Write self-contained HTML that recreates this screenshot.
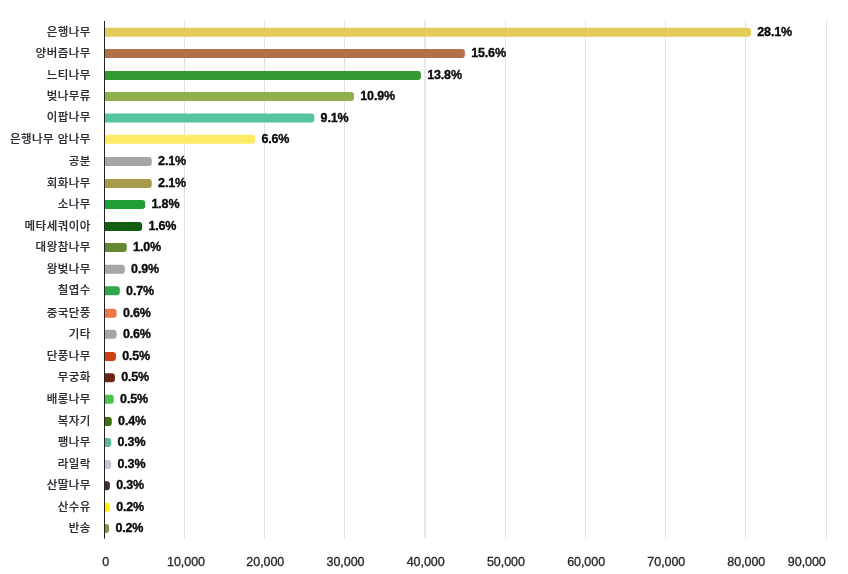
<!DOCTYPE html>
<html lang="ko"><head><meta charset="utf-8"><title>chart</title><style>
html,body{margin:0;padding:0;background:#fff;}
#c{will-change:transform;position:relative;width:848px;height:574px;overflow:hidden;background:#fff;font-family:"Liberation Sans","Noto Sans CJK KR",sans-serif;}
#c svg{position:absolute;left:0;top:0;}
.l{position:absolute;right:757.2px;width:110px;text-align:right;font-size:11.5px;line-height:14px;letter-spacing:0.46px;color:#2c2c34;white-space:nowrap;font-weight:500;-webkit-text-stroke:0.16px #2c2c34;}
.v{position:absolute;font-weight:bold;font-size:12.5px;line-height:14px;color:#0a0a0a;white-space:nowrap;letter-spacing:-0.15px;-webkit-text-stroke:0.35px #0a0a0a;}
.t{position:absolute;width:80px;text-align:center;font-size:12.5px;line-height:14px;color:#262626;letter-spacing:-0.05px;white-space:nowrap;-webkit-text-stroke:0.3px #262626;}
</style></head><body><div id="c">
<svg width="848" height="574" viewBox="0 0 848 574">
<rect x="184" y="20.5" width="1" height="517.9" fill="#e2e2e2"/>
<rect x="264" y="20.5" width="1" height="517.9" fill="#e2e2e2"/>
<rect x="344" y="20.5" width="1" height="517.9" fill="#e2e2e2"/>
<rect x="424" y="20.5" width="2" height="517.9" fill="#e8e8e8"/>
<rect x="505" y="20.5" width="1" height="517.9" fill="#e2e2e2"/>
<rect x="585" y="20.5" width="1" height="517.9" fill="#e2e2e2"/>
<rect x="665" y="20.5" width="1" height="517.9" fill="#e2e2e2"/>
<rect x="745" y="20.5" width="1" height="517.9" fill="#e2e2e2"/>
<rect x="826" y="20.5" width="1" height="517.9" fill="#e2e2e2"/>
<path d="M104.5 27.80h643.50a3 3 0 0 1 3 3v3.00a3 3 0 0 1 -3 3h-643.50z" fill="#E3CC5A"/>
<path d="M104.5 48.90h357.40a3 3 0 0 1 3 3v3.00a3 3 0 0 1 -3 3h-357.40z" fill="#B07048"/>
<path d="M104.5 70.90h313.40a3 3 0 0 1 3 3v3.00a3 3 0 0 1 -3 3h-313.40z" fill="#339933"/>
<path d="M104.5 92.00h246.50a3 3 0 0 1 3 3v3.00a3 3 0 0 1 -3 3h-246.50z" fill="#8FB04C"/>
<path d="M104.5 113.60h206.80a3 3 0 0 1 3 3v3.00a3 3 0 0 1 -3 3h-206.80z" fill="#55C4A0"/>
<path d="M104.5 134.85h147.60a3 3 0 0 1 3 3v3.00a3 3 0 0 1 -3 3h-147.60z" fill="#FFEB66"/>
<path d="M104.5 156.90h44.30a3 3 0 0 1 3 3v3.00a3 3 0 0 1 -3 3h-44.30z" fill="#A6A6A6"/>
<path d="M104.5 178.90h44.30a3 3 0 0 1 3 3v3.00a3 3 0 0 1 -3 3h-44.30z" fill="#A89C4C"/>
<path d="M104.5 200.00h37.70a3 3 0 0 1 3 3v3.00a3 3 0 0 1 -3 3h-37.70z" fill="#1F9E35"/>
<path d="M104.5 221.95h34.60a3 3 0 0 1 3 3v3.00a3 3 0 0 1 -3 3h-34.60z" fill="#145E12"/>
<path d="M104.5 243.10h19.30a3 3 0 0 1 3 3v3.00a3 3 0 0 1 -3 3h-19.30z" fill="#668A33"/>
<path d="M104.5 264.75h17.30a3 3 0 0 1 3 3v3.00a3 3 0 0 1 -3 3h-17.30z" fill="#A6A6A6"/>
<path d="M104.5 286.30h12.30a3 3 0 0 1 3 3v3.00a3 3 0 0 1 -3 3h-12.30z" fill="#33A64C"/>
<path d="M104.5 308.70h9.10a3 3 0 0 1 3 3v3.00a3 3 0 0 1 -3 3h-9.10z" fill="#F07848"/>
<path d="M104.5 329.80h9.10a3 3 0 0 1 3 3v3.00a3 3 0 0 1 -3 3h-9.10z" fill="#A6A6A6"/>
<path d="M104.5 352.00h8.40a3 3 0 0 1 3 3v3.00a3 3 0 0 1 -3 3h-8.40z" fill="#CC4010"/>
<path d="M104.5 373.25h7.40a3 3 0 0 1 3 3v3.00a3 3 0 0 1 -3 3h-7.40z" fill="#6B2810"/>
<path d="M104.5 394.85h6.30a3 3 0 0 1 3 3v3.00a3 3 0 0 1 -3 3h-6.30z" fill="#4CC44C"/>
<path d="M104.5 417.00h4.30a3 3 0 0 1 3 3v3.00a3 3 0 0 1 -3 3h-4.30z" fill="#3F7010"/>
<path d="M104.5 438.00h3.70a3 3 0 0 1 3 3v3.00a3 3 0 0 1 -3 3h-3.70z" fill="#5DB89A"/>
<path d="M104.5 460.05h3.70a3 3 0 0 1 3 3v3.00a3 3 0 0 1 -3 3h-3.70z" fill="#C8C4D4"/>
<path d="M104.5 481.20h2.40a3 3 0 0 1 3 3v3.00a3 3 0 0 1 -3 3h-2.40z" fill="#3F302C"/>
<path d="M104.5 502.80h2.40a3 3 0 0 1 3 3v3.00a3 3 0 0 1 -3 3h-2.40z" fill="#FFF000"/>
<path d="M104.5 524.00h1.60a3 3 0 0 1 3 3v3.00a3 3 0 0 1 -3 3h-1.60z" fill="#7E9448"/>
<rect x="104" y="21" width="1" height="517.8" fill="#222"/>
</svg>
<div class="l" style="top:25.1px">은행나무</div>
<div class="v" style="left:757.3px;top:25.1px">28.1%</div>
<div class="l" style="top:46.1px">양버즘나무</div>
<div class="v" style="left:471.2px;top:46.1px">15.6%</div>
<div class="l" style="top:68.1px">느티나무</div>
<div class="v" style="left:427.2px;top:68.1px">13.8%</div>
<div class="l" style="top:89.1px">벚나무류</div>
<div class="v" style="left:360.3px;top:89.1px">10.9%</div>
<div class="l" style="top:110.1px">이팝나무</div>
<div class="v" style="left:320.6px;top:111.1px">9.1%</div>
<div class="l" style="top:132.1px">은행나무 암나무</div>
<div class="v" style="left:261.4px;top:132.1px">6.6%</div>
<div class="l" style="top:154.1px">공분</div>
<div class="v" style="left:158.1px;top:154.1px">2.1%</div>
<div class="l" style="top:176.1px">회화나무</div>
<div class="v" style="left:158.1px;top:176.1px">2.1%</div>
<div class="l" style="top:197.1px">소나무</div>
<div class="v" style="left:151.5px;top:197.1px">1.8%</div>
<div class="l" style="top:219.1px">메타세쿼이아</div>
<div class="v" style="left:148.4px;top:219.1px">1.6%</div>
<div class="l" style="top:240.1px">대왕참나무</div>
<div class="v" style="left:133.1px;top:240.1px">1.0%</div>
<div class="l" style="top:262.1px">왕벚나무</div>
<div class="v" style="left:131.1px;top:262.1px">0.9%</div>
<div class="l" style="top:283.1px">칠엽수</div>
<div class="v" style="left:126.1px;top:284.1px">0.7%</div>
<div class="l" style="top:306.1px">중국단풍</div>
<div class="v" style="left:122.9px;top:306.1px">0.6%</div>
<div class="l" style="top:327.1px">기타</div>
<div class="v" style="left:122.9px;top:327.1px">0.6%</div>
<div class="l" style="top:349.1px">단풍나무</div>
<div class="v" style="left:122.2px;top:349.1px">0.5%</div>
<div class="l" style="top:370.1px">무궁화</div>
<div class="v" style="left:121.2px;top:370.1px">0.5%</div>
<div class="l" style="top:392.1px">배롱나무</div>
<div class="v" style="left:120.1px;top:392.1px">0.5%</div>
<div class="l" style="top:414.1px">복자기</div>
<div class="v" style="left:118.1px;top:414.1px">0.4%</div>
<div class="l" style="top:435.1px">팽나무</div>
<div class="v" style="left:117.5px;top:435.1px">0.3%</div>
<div class="l" style="top:457.1px">라일락</div>
<div class="v" style="left:117.5px;top:457.1px">0.3%</div>
<div class="l" style="top:478.1px">산딸나무</div>
<div class="v" style="left:116.2px;top:478.1px">0.3%</div>
<div class="l" style="top:500.1px">산수유</div>
<div class="v" style="left:116.2px;top:500.1px">0.2%</div>
<div class="l" style="top:521.1px">반송</div>
<div class="v" style="left:115.4px;top:521.1px">0.2%</div>
<div class="t" style="left:65.6px;top:554.5px">0</div>
<div class="t" style="left:146.0px;top:554.5px">10,000</div>
<div class="t" style="left:225.3px;top:554.5px">20,000</div>
<div class="t" style="left:305.5px;top:554.5px">30,000</div>
<div class="t" style="left:385.7px;top:554.5px">40,000</div>
<div class="t" style="left:465.9px;top:554.5px">50,000</div>
<div class="t" style="left:546.1px;top:554.5px">60,000</div>
<div class="t" style="left:626.3px;top:554.5px">70,000</div>
<div class="t" style="left:706.3px;top:554.5px">80,000</div>
<div class="t" style="left:766.8px;top:554.5px">90,000</div>
</div></body></html>
